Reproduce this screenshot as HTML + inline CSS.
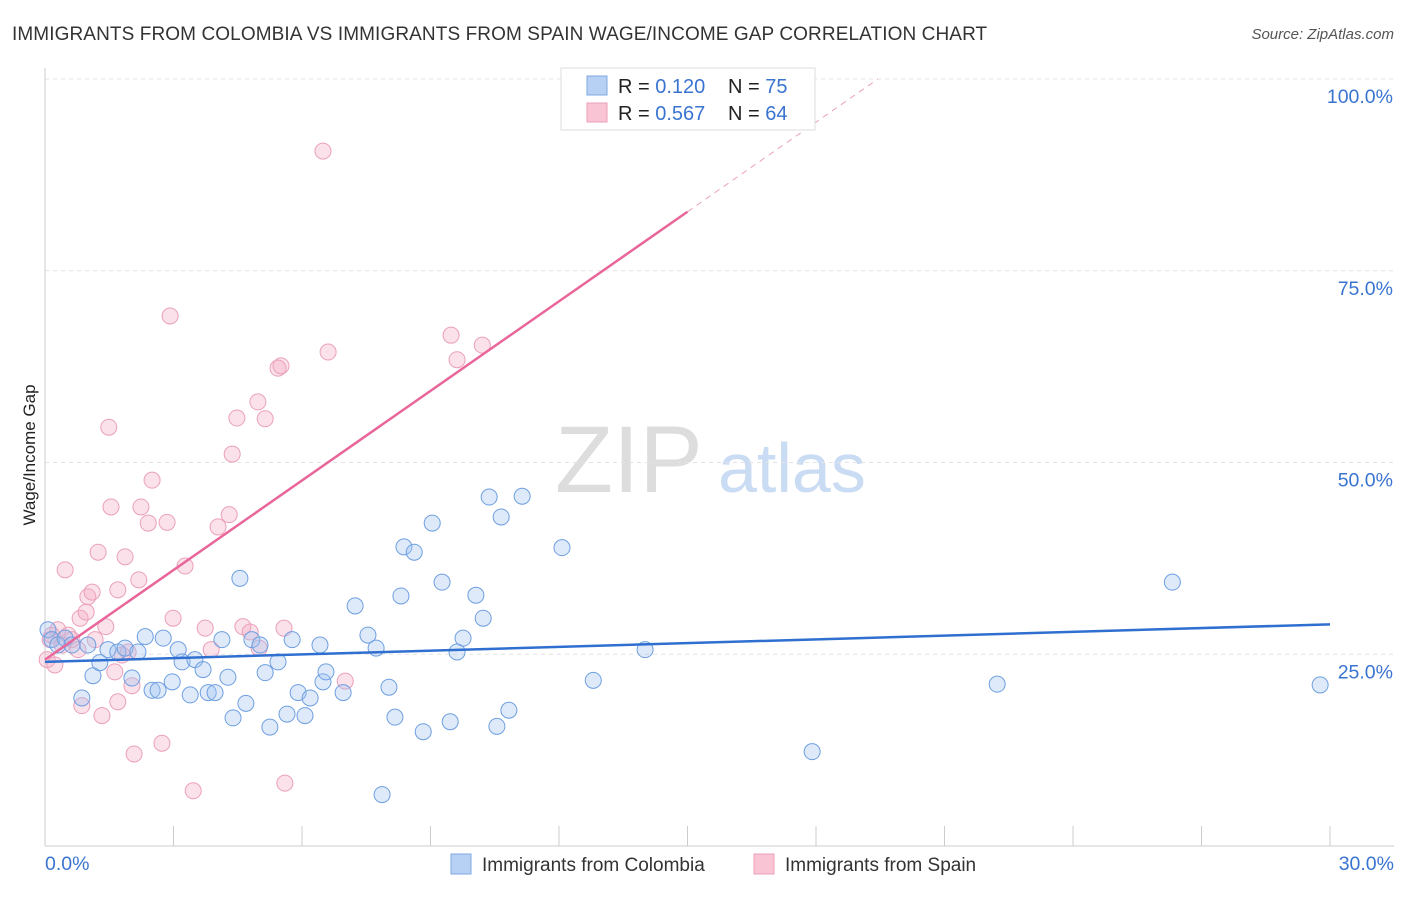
<!DOCTYPE html>
<html><head><meta charset="utf-8"><style>
body{margin:0;background:#fff;font-family:"Liberation Sans",sans-serif}
svg text{font-family:"Liberation Sans",sans-serif}
</style></head><body>
<svg id="c" width="1406" height="892">
<text x="12" y="40" font-size="19" fill="#333" letter-spacing="0.1">IMMIGRANTS FROM COLOMBIA VS IMMIGRANTS FROM SPAIN WAGE/INCOME GAP CORRELATION CHART</text>
<text x="1394" y="39" font-size="15" fill="#555" font-style="italic" text-anchor="end">Source: ZipAtlas.com</text>
<text x="35" y="455" font-size="17" fill="#222" text-anchor="middle" transform="rotate(-90 35 455)">Wage/Income Gap</text>
<text x="555" y="492" font-size="95" fill="#ddd" font-family="Liberation Serif">ZIP</text>
<text x="718" y="492" font-size="70" fill="#c9dcf3">atlas</text>
<g id="grid"></g><g id="pts"></g><g id="lines"></g>
<rect x="561" y="68" width="254" height="62" fill="#fff" stroke="#ddd"/>
<rect x="587" y="76" width="20" height="19" fill="#b7d1f5" stroke="#7fa8e0"/>
<rect x="587" y="103" width="20" height="19" fill="#f9c5d5" stroke="#eba0ba"/>
<text x="618" y="93" font-size="20" fill="#222">R = <tspan fill="#3a74d1">0.120</tspan></text>
<text x="728" y="93" font-size="20" fill="#222">N = <tspan fill="#3a74d1">75</tspan></text>
<text x="618" y="120" font-size="20" fill="#222">R = <tspan fill="#3a74d1">0.567</tspan></text>
<text x="728" y="120" font-size="20" fill="#222">N = <tspan fill="#3a74d1">64</tspan></text>
<rect x="451" y="854" width="20" height="20" fill="#b7d1f5" stroke="#7fa8e0"/>
<text x="482" y="871" font-size="19" fill="#333">Immigrants from Colombia</text>
<rect x="754" y="854" width="20" height="20" fill="#f9c5d5" stroke="#eba0ba"/>
<text x="785" y="871" font-size="19" fill="#333">Immigrants from Spain</text>
</svg>
<script>
const blueX=[0.07,0.16,0.30,0.47,0.63,1.00,0.86,1.12,1.28,1.47,1.70,1.87,2.03,2.17,2.34,2.50,2.64,2.76,2.97,3.11,3.20,3.39,3.50,3.69,3.81,3.97,4.13,4.27,4.39,4.55,4.69,4.83,5.02,5.14,5.25,5.44,5.65,5.77,5.91,6.07,6.19,6.42,6.49,6.56,6.96,7.24,7.54,7.73,7.87,8.03,8.17,8.31,8.38,8.62,8.83,9.04,9.27,9.46,9.62,9.76,10.06,10.23,10.37,10.55,10.65,10.83,11.14,12.07,12.80,14.01,17.91,22.23,26.32,29.77];
const blueY=[28.2,26.9,26.2,27.1,26.2,26.2,19.3,22.2,23.9,25.6,25.3,25.8,21.9,25.3,27.3,20.3,20.3,27.1,21.4,25.6,24.0,19.7,24.3,23.0,20.0,20.0,26.9,22.0,16.7,34.9,18.6,26.9,26.2,22.6,15.5,24.0,17.2,26.9,20.0,17.0,19.3,26.2,21.4,22.7,20.0,31.3,27.5,25.8,6.7,20.7,16.8,32.6,39.0,38.3,14.9,42.1,34.4,16.2,25.3,27.1,32.7,29.7,45.5,15.6,42.9,17.7,45.6,38.9,21.6,25.6,12.3,21.1,34.4,21.0];
const pinkX=[0.05,0.12,0.16,0.23,0.30,0.40,0.47,0.54,0.63,0.77,0.82,0.86,0.96,1.00,1.10,1.17,1.24,1.33,1.42,1.49,1.54,1.63,1.70,1.70,1.80,1.87,1.94,2.03,2.08,2.19,2.24,2.41,2.50,2.73,2.85,2.92,2.99,3.27,3.46,3.74,3.88,4.04,4.30,4.37,4.48,4.62,4.79,4.97,5.00,5.14,5.44,5.51,5.58,5.60,6.49,6.61,7.01,9.48,9.62,10.21];
const pinkY=[24.3,26.9,27.5,23.6,28.2,26.2,36.0,27.5,26.9,25.6,29.7,18.3,30.5,32.5,33.1,26.9,38.3,17.0,28.6,54.6,44.2,22.7,18.8,33.4,24.9,37.7,25.3,20.9,12.0,34.7,44.2,42.1,47.7,13.4,42.2,69.1,29.7,36.5,7.2,28.4,25.6,41.6,43.2,51.1,55.8,28.6,27.9,57.9,25.8,55.7,62.3,62.6,28.4,8.2,90.6,64.4,21.5,66.6,63.4,65.3];
const yTicks=[25,50,75,100];
const xTicks=[0,3,6,9,12,15,18,21,24,27,30];
const blueLine=[24.0,28.9];
const pinkLine=[24.3,3.893];
const NS='http://www.w3.org/2000/svg';
const sx=v=>45+v/30*1285, sy=v=>846-v/100*767;
function mk(t,a,p){const e=document.createElementNS(NS,t);for(const k in a)e.setAttribute(k,a[k]);document.getElementById(p).appendChild(e);return e;}
yTicks.forEach(t=>{
 const l=mk('line',{x1:45,x2:1394,y1:sy(t),y2:sy(t),stroke:'#e3e3e3','stroke-dasharray':'4,4'},'grid');
 
 
 const tx=mk('text',{x:1393,y:sy(t)+24,'font-size':19.5,fill:'#3a74d1','text-anchor':'end'},'grid');tx.textContent=t.toFixed(1)+'%';
 
 
});
const ax=mk('line',{x1:45,x2:1394,y1:846,y2:846,stroke:'#ccc'},'grid');


const ay=mk('line',{x1:45,x2:45,y1:68,y2:846,stroke:'#ccc'},'grid');


xTicks.forEach(t=>{
 const l=mk('line',{x1:sx(t),x2:sx(t),y1:826,y2:846,stroke:'#ccc'},'grid');
 
 
});
[[0,'start',45],[30,'end',1394]].forEach(([t,a,x])=>{
 const tx=mk('text',{x:x,y:870,'font-size':19.5,fill:'#3a74d1','text-anchor':a},'grid');tx.textContent=t.toFixed(1)+'%';
 
 
});
pinkX.forEach((x,i)=>{
 const c=mk('circle',{cx:sx(x),cy:sy(pinkY[i]),r:8,fill:'rgba(244,170,196,0.35)',stroke:'#eba0ba','stroke-width':1},'pts');
 
 
});
blueX.forEach((x,i)=>{
 const c=mk('circle',{cx:sx(x),cy:sy(blueY[i]),r:8,fill:'rgba(160,195,240,0.35)',stroke:'#6e9fe0','stroke-width':1},'pts');
 
 
});
const bl=mk('line',{x1:sx(0),y1:sy(blueLine[0]),x2:sx(30),y2:sy(blueLine[1]),stroke:'#2f6fd0','stroke-width':2.5},'lines');


const pl=mk('line',{x1:sx(0),y1:sy(pinkLine[0]),x2:sx(15),y2:sy(pinkLine[0]+15*pinkLine[1]),stroke:'#e8669a','stroke-width':2.5},'lines');


const xe=(100-pinkLine[0])/pinkLine[1];
const pd=mk('line',{x1:sx(15),y1:sy(pinkLine[0]+15*pinkLine[1]),x2:sx(xe),y2:sy(100),stroke:'#eba0ba','stroke-width':1,'stroke-dasharray':'6,5'},'lines');


</script>
</body></html>
